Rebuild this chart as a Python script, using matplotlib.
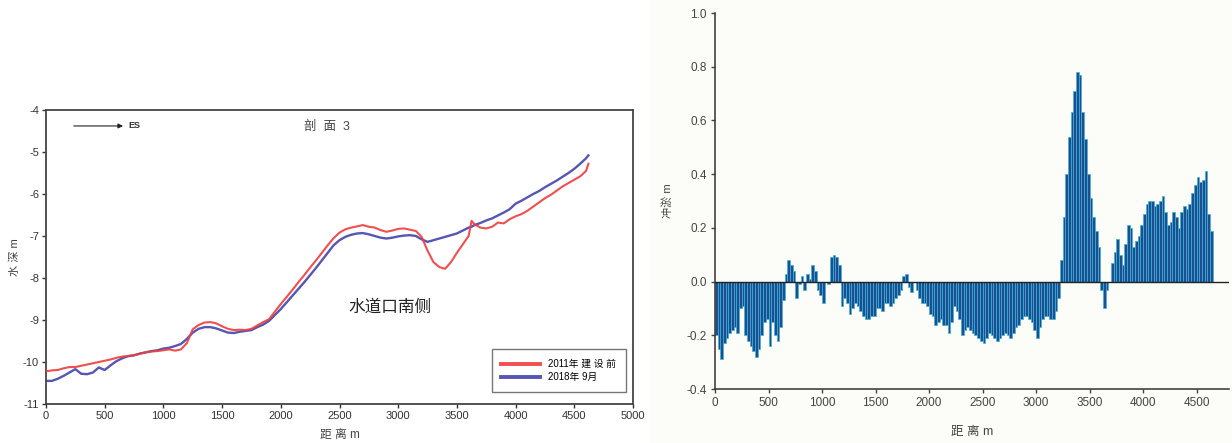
import numpy as np
import matplotlib
matplotlib.use("Agg")
import matplotlib.pyplot as plt
from matplotlib.patches import Rectangle

plt.rcParams['font.family'] = ['Liberation Sans', 'Noto Sans CJK SC', 'DejaVu Sans']
plt.rcParams['axes.unicode_minus'] = False

# ---------------- Left chart data: profile 3 water depth ----------------
profile_dist = [0, 50, 100, 150, 200, 250, 300, 350, 400, 450,
                500, 550, 600, 650, 700, 750, 800, 850, 900, 950,
                1000, 1050, 1100, 1150, 1200, 1250, 1300, 1350, 1400, 1450,
                1500, 1550, 1600, 1650, 1700, 1750, 1800, 1850, 1900, 1950,
                2000, 2050, 2100, 2150, 2200, 2250, 2300, 2350, 2400, 2450,
                2500, 2550, 2600, 2650, 2700, 2750, 2800, 2850, 2900, 2950,
                3000, 3050, 3100, 3150, 3200, 3250, 3300, 3350, 3400, 3450,
                3500, 3550, 3600, 3625, 3650, 3700, 3750, 3800, 3850, 3900,
                3950, 4000, 4050, 4100, 4150, 4200, 4250, 4300, 4350, 4400,
                4450, 4500, 4550, 4600, 4620]

depth_2011 = [-10.22, -10.20, -10.19, -10.15, -10.12, -10.12, -10.09, -10.06, -10.03, -10.00,
              -9.97, -9.94, -9.90, -9.87, -9.86, -9.84, -9.80, -9.77, -9.75, -9.74,
              -9.72, -9.70, -9.73, -9.70, -9.55, -9.22, -9.12, -9.06, -9.05, -9.08,
              -9.15, -9.21, -9.24, -9.23, -9.24, -9.21, -9.13, -9.05, -8.98, -8.80,
              -8.62, -8.45, -8.28, -8.10, -7.93, -7.75, -7.58, -7.40, -7.22, -7.05,
              -6.92, -6.84, -6.80, -6.77, -6.74, -6.78, -6.80, -6.86, -6.90, -6.87,
              -6.83, -6.82, -6.85, -6.88, -7.02, -7.35, -7.62, -7.74, -7.78, -7.62,
              -7.40, -7.20, -7.00, -6.64, -6.72, -6.80, -6.82, -6.78, -6.68, -6.70,
              -6.60, -6.53, -6.48, -6.40, -6.30, -6.20, -6.10, -6.02, -5.92, -5.82,
              -5.74, -5.66, -5.58, -5.45, -5.28]

depth_2018 = [-10.45, -10.45, -10.40, -10.33, -10.25, -10.17, -10.28, -10.29, -10.25, -10.13,
              -10.19, -10.08, -9.98, -9.91, -9.86, -9.84, -9.80, -9.77, -9.74, -9.72,
              -9.68, -9.66, -9.62, -9.57, -9.45, -9.30, -9.21, -9.17, -9.17, -9.20,
              -9.25, -9.30, -9.31, -9.28, -9.26, -9.24, -9.17, -9.11, -9.02, -8.88,
              -8.74, -8.58, -8.42, -8.26, -8.10, -7.93, -7.76, -7.58, -7.40, -7.22,
              -7.10, -7.02, -6.97, -6.94, -6.93, -6.96, -7.00, -7.04, -7.06, -7.04,
              -7.01, -6.99, -6.98, -7.00, -7.08, -7.14, -7.10, -7.06, -7.02, -6.98,
              -6.94, -6.87, -6.80, -6.78, -6.74, -6.69, -6.63, -6.58, -6.51, -6.44,
              -6.36, -6.23, -6.16, -6.08, -6.00, -5.93, -5.84, -5.76, -5.68, -5.59,
              -5.50, -5.40, -5.28, -5.15, -5.08]

left_xticks = [0, 500, 1000, 1500, 2000, 2500, 3000, 3500, 4000, 4500, 5000]
left_yticks = [-4, -5, -6, -7, -8, -9, -10, -11]
legend_labels = ["2011年 建 设 前", "2018年 9月"]

# ---------------- Right chart data: erosion / deposition ----------------
erosion_step = 25
erosion = [
    -0.20, -0.25, -0.29, -0.23, -0.21, -0.19, -0.18, -0.17, -0.19, -0.10,   # 0-225
    -0.09, -0.20, -0.22, -0.24, -0.26, -0.28, -0.25, -0.20, -0.15, -0.14,   # 250-475
    -0.24, -0.15, -0.20, -0.22, -0.17, -0.07, 0.03, 0.08, 0.06, 0.04,       # 500-725
    -0.06, -0.01, 0.02, -0.03, 0.03, 0.01, 0.06, 0.04, -0.03, -0.05,        # 750-975
    -0.08, 0.00, -0.01, 0.09, 0.10, 0.09, 0.06, -0.09, -0.06, -0.08,        # 1000-1225
    -0.12, -0.10, -0.08, -0.09, -0.11, -0.13, -0.14, -0.14, -0.13, -0.13,   # 1250-1475
    -0.10, -0.10, -0.11, -0.08, -0.08, -0.09, -0.08, -0.06, -0.05, -0.03,   # 1500-1725
    0.02, 0.03, -0.02, -0.04, 0.00, -0.03, -0.06, -0.08, -0.08, -0.09,      # 1750-1975
    -0.12, -0.13, -0.16, -0.15, -0.14, -0.16, -0.16, -0.19, -0.15, -0.09,   # 2000-2225
    -0.11, -0.14, -0.20, -0.18, -0.17, -0.18, -0.19, -0.20, -0.21, -0.22,   # 2250-2475
    -0.23, -0.21, -0.19, -0.20, -0.21, -0.22, -0.21, -0.20, -0.19, -0.20,   # 2500-2725
    -0.21, -0.19, -0.17, -0.16, -0.14, -0.13, -0.13, -0.14, -0.15, -0.18,   # 2750-2975
    -0.21, -0.17, -0.14, -0.13, -0.13, -0.14, -0.14, -0.11, -0.06, 0.08,    # 3000-3225
    0.24, 0.40, 0.54, 0.63, 0.71, 0.78, 0.77, 0.63, 0.53, 0.40,             # 3250-3475
    0.31, 0.24, 0.19, 0.13, -0.03, -0.10, -0.03, 0.00, 0.07, 0.11,          # 3500-3725
    0.16, 0.10, 0.06, 0.14, 0.21, 0.20, 0.13, 0.15, 0.17, 0.21,             # 3750-3975
    0.25, 0.29, 0.30, 0.30, 0.28, 0.29, 0.30, 0.32, 0.26, 0.21,             # 4000-4225
    0.22, 0.26, 0.24, 0.20, 0.26, 0.28, 0.27, 0.29, 0.33, 0.36,             # 4250-4475
    0.39, 0.37, 0.38, 0.41, 0.25, 0.19,                                      # 4500-4625
]
erosion_dist = np.arange(len(erosion)) * erosion_step
right_xticks = [0, 500, 1000, 1500, 2000, 2500, 3000, 3500, 4000, 4500]
right_yticks = [-0.4, -0.2, 0.0, 0.2, 0.4, 0.6, 0.8, 1.0]

# ---------------- Figure ----------------
fig = plt.figure(figsize=(12.32, 4.43), dpi=100)
fig.patch.set_facecolor('white')
fig.add_artist(Rectangle((650 / 1232, 0), 582 / 1232, 1, transform=fig.transFigure,
                         facecolor='#fcfcf8', edgecolor='none', zorder=-10))

# ---- Left axes ----
axL = fig.add_axes([46 / 1232, 1 - 404 / 443, 587 / 1232, 294 / 443])
axL.plot(profile_dist, depth_2011, color='#f03c3c', lw=1.5, alpha=0.9, label=legend_labels[0], zorder=3)
axL.plot(profile_dist, depth_2018, color='#4343ad', lw=1.7, alpha=0.9, label=legend_labels[1], zorder=2)
axL.set_xlim(0, 5000)
axL.set_ylim(-11, -4)
axL.set_xticks(left_xticks)
axL.set_yticks(left_yticks)
axL.tick_params(direction='out', length=3, width=1, labelsize=8, colors='#333333', pad=2)
for s in axL.spines.values():
    s.set_linewidth(1.3)
    s.set_color('#444444')
axL.set_xlabel('距 离 m', fontsize=8.5, color='#444444', labelpad=6)
axL.set_ylabel('水 深 m', fontsize=8, color='#444444', labelpad=2)
axL.annotate('', xy=(680, -4.38), xytext=(213, -4.38),
             arrowprops=dict(arrowstyle='-|>', color='#222222', lw=0.8, mutation_scale=7))
axL.text(700, -4.38, 'ES', fontsize=6.5, color='#333333', va='center', ha='left', fontweight='bold')
axL.text(2200, -4.4, '剖  面  3', fontsize=9, color='#444444', va='center', ha='left')
axL.text(2930, -8.68, '水道口南侧', fontsize=12, color='#222222', va='center', ha='center')
leg = axL.legend(loc='lower right', fontsize=7, frameon=True, fancybox=False,
                 edgecolor='#555555', handlelength=4, borderpad=1.0,
                 bbox_to_anchor=(0.996, 0.025), labelspacing=0.3)
leg.get_frame().set_linewidth(1.0)
for h in leg.legend_handles:
    h.set_linewidth(2.8)

# ---- Right axes ----
xmax = 4800
axR = fig.add_axes([715 / 1232, 1 - 389 / 443, (xmax * 0.107) / 1232, 376 / 443])
axR.set_facecolor('none')
axR.bar(erosion_dist, erosion, width=erosion_step, align='edge', color='#1b4f92',
        edgecolor='#3cb4d8', linewidth=0.5, zorder=2)
axR.axhline(0, color='#222222', lw=1.0, zorder=3)
axR.set_xlim(0, xmax)
axR.set_ylim(-0.4, 1.0)
axR.set_xticks(right_xticks)
axR.set_yticks(right_yticks)
axR.set_yticklabels([f'{v:.1f}' for v in right_yticks])
axR.spines['top'].set_visible(False)
axR.spines['right'].set_visible(False)
for s in ('left', 'bottom'):
    axR.spines[s].set_linewidth(1.1)
    axR.spines[s].set_color('#333333')
axR.tick_params(direction='out', length=3, width=1, labelsize=8.5, colors='#444444', pad=3)
axR.set_xlabel('距 离 m', fontsize=9, color='#444444', labelpad=12)
axR.set_ylabel('冲淤 m', fontsize=8, color='#444444', labelpad=10)

fig.savefig('out.png', dpi=100)
